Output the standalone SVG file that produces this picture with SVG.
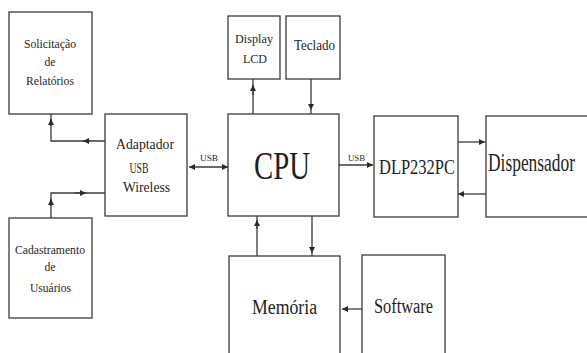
<svg xmlns="http://www.w3.org/2000/svg" width="587" height="353" viewBox="0 0 587 353">
<style>
.box{fill:#fff;stroke:#3a3a3a;stroke-width:1.3}
.ln{fill:none;stroke:#3a3a3a;stroke-width:1.3}
.t{font-family:'Liberation Serif','DejaVu Serif',serif;fill:#1e1e1e;text-anchor:middle}
</style>
<defs>
<marker id="ah" viewBox="0 0 10 10" refX="10" refY="5" markerWidth="6" markerHeight="6" markerUnits="userSpaceOnUse" orient="auto-start-reverse">
<path d="M0,0 L10,5 L0,10 z" fill="#2a2a2a"/>
</marker>
</defs>
<rect width="587" height="353" fill="#fff"/>
<g id="connectors">
<path class="ln" d="M105,141 H51 V114"/>
<path class="ln" d="M90,141 H83" marker-end="url(#ah)"/>
<path class="ln" d="M51,126 V119" marker-end="url(#ah)"/>
<path class="ln" d="M51,218 V193 H105"/>
<path class="ln" d="M75,193 H86" marker-end="url(#ah)"/>
<path class="ln" d="M51,206 V199" marker-end="url(#ah)"/>
<path class="ln" d="M189,167 H228" marker-start="url(#ah)" marker-end="url(#ah)"/>
<path class="ln" d="M253,114 V79"/>
<path class="ln" d="M253,95 V85" marker-end="url(#ah)"/>
<path class="ln" d="M311,79 V110" marker-end="url(#ah)"/>
<path class="ln" d="M311,110 V114"/>
<path class="ln" d="M339,165 H373" marker-end="url(#ah)"/>
<path class="ln" d="M458,142 H485" marker-end="url(#ah)"/>
<path class="ln" d="M486,194 H458" marker-end="url(#ah)"/>
<path class="ln" d="M257,256 V216"/>
<path class="ln" d="M257,229 V220" marker-end="url(#ah)"/>
<path class="ln" d="M312,216 V253" marker-end="url(#ah)"/>
<path class="ln" d="M312,253 V256"/>
<path class="ln" d="M362,309 H342" marker-end="url(#ah)"/>
<text class="t" x="209" y="161" font-size="9" textLength="18" lengthAdjust="spacingAndGlyphs">USB</text>
<text class="t" x="356.5" y="161" font-size="9" textLength="17" lengthAdjust="spacingAndGlyphs">USB</text>
</g>
<g id="solicitacao">
<rect class="box" x="9" y="12" width="83" height="102"/>
<text class="t" x="50" y="48" font-size="13" textLength="52" lengthAdjust="spacingAndGlyphs">Solicitação</text>
<text class="t" x="50" y="66" font-size="13" textLength="11" lengthAdjust="spacingAndGlyphs">de</text>
<text class="t" x="50" y="85" font-size="13" textLength="48" lengthAdjust="spacingAndGlyphs">Relatórios</text>
</g>
<g id="adaptador">
<rect class="box" x="105" y="114" width="82" height="102"/>
<text class="t" x="145" y="149" font-size="14" textLength="58" lengthAdjust="spacingAndGlyphs">Adaptador</text>
<text class="t" x="139" y="173" font-size="14" textLength="19" lengthAdjust="spacingAndGlyphs">USB</text>
<text class="t" x="146.5" y="192" font-size="14" textLength="47" lengthAdjust="spacingAndGlyphs">Wireless</text>
</g>
<g id="cadastramento">
<rect class="box" x="9" y="218" width="83" height="100"/>
<text class="t" x="50" y="254" font-size="13" textLength="70" lengthAdjust="spacingAndGlyphs">Cadastramento</text>
<text class="t" x="50" y="271" font-size="13" textLength="11" lengthAdjust="spacingAndGlyphs">de</text>
<text class="t" x="50.5" y="292" font-size="13" textLength="41" lengthAdjust="spacingAndGlyphs">Usuários</text>
</g>
<g id="display">
<rect class="box" x="228" y="16" width="52" height="63"/>
<text class="t" x="254" y="43" font-size="13" textLength="38" lengthAdjust="spacingAndGlyphs">Display</text>
<text class="t" x="255" y="63" font-size="13" textLength="24" lengthAdjust="spacingAndGlyphs">LCD</text>
</g>
<g id="teclado">
<rect class="box" x="286" y="16" width="54" height="63"/>
<text class="t" x="314.5" y="50" font-size="14" textLength="41" lengthAdjust="spacingAndGlyphs">Teclado</text>
</g>
<g id="cpu">
<rect class="box" x="228" y="114" width="111" height="102"/>
<text class="t" x="282" y="179" font-size="40" textLength="56" lengthAdjust="spacingAndGlyphs">CPU</text>
</g>
<g id="dlp">
<rect class="box" x="374" y="116" width="84" height="101"/>
<text class="t" x="417" y="174" font-size="22" textLength="76" lengthAdjust="spacingAndGlyphs">DLP232PC</text>
</g>
<g id="dispensador">
<rect class="box" x="486" y="116" width="110" height="101"/>
<text class="t" x="0" y="0" font-size="26" transform="translate(488,171) scale(0.67,1)" style="text-anchor:start">Dispensador</text>
</g>
<g id="memoria">
<rect class="box" x="229" y="256" width="111" height="110"/>
<text class="t" x="284.5" y="314" font-size="20" textLength="65" lengthAdjust="spacingAndGlyphs">Memória</text>
</g>
<g id="software">
<rect class="box" x="362" y="255" width="83" height="110"/>
<text class="t" x="403.5" y="313" font-size="20" textLength="59" lengthAdjust="spacingAndGlyphs">Software</text>
</g>
</svg>
